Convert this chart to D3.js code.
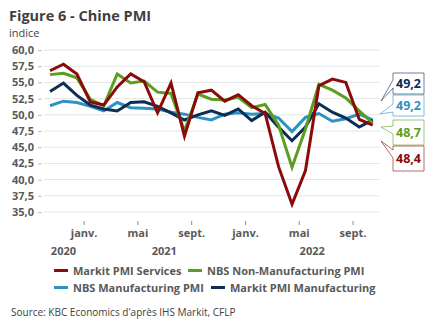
<!DOCTYPE html>
<html><head><meta charset="utf-8">
<script src="https://cdn.jsdelivr.net/npm/d3@7"></script>
<style>body{margin:0;background:#fff;} svg{display:block;font-family:"Open Sans",sans-serif;}</style>
</head><body>
<svg id="c" width="432" height="332"></svg>
<script>
const months = ["oct.20","nov.20","déc.20","janv.21","févr.21","mars21","avr.21","mai21","juin21","juil.21","août21","sept.21","oct.21","nov.21","déc.21","janv.22","févr.22","mars22","avr.22","mai22","juin22","juil.22","août22","sept.22","oct.22"];
const markitServices = [56.8,57.8,56.3,52.0,51.5,54.3,56.3,55.1,50.3,54.9,46.7,53.4,53.8,52.1,53.1,51.4,50.2,42.0,36.2,41.4,54.5,55.5,55.0,49.3,48.4];
const nbsNonManuf   = [56.2,56.4,55.7,52.4,51.4,56.3,54.9,55.2,53.5,53.3,47.5,53.2,52.4,52.3,52.7,51.1,51.6,48.4,41.9,47.8,54.7,53.8,52.6,50.6,48.7];
const nbsManuf      = [51.4,52.1,51.9,51.3,50.6,51.9,51.1,51.0,50.9,50.4,50.1,49.6,49.2,50.1,50.3,50.1,50.2,49.5,47.4,49.6,50.2,49.0,49.4,50.1,49.2];
const markitManuf   = [53.6,54.9,53.0,51.5,50.9,50.6,51.9,52.0,51.3,50.3,49.2,50.0,50.6,49.9,50.9,49.1,50.4,48.1,46.0,48.1,51.7,50.4,49.5,48.1,49.2];
const yTicks = [35,37.5,40,42.5,45,47.5,50,52.5,55,57.5,60];
const monthTicks = [{pos:2.5,label:"janv."},{pos:6.5,label:"mai"},{pos:10.5,label:"sept."},{pos:14.5,label:"janv."},{pos:18.5,label:"mai"},{pos:22.5,label:"sept."}];
const yearLabels = [{pos:1,label:"2020"},{pos:8.5,label:"2021"},{pos:19.5,label:"2022"}];
const seriesNames = ["Markit PMI Services","NBS Non-Manufacturing PMI","NBS Manufacturing PMI","Markit PMI Manufacturing"];
const colors = ["#8B0A0A","#5B9E1F","#2B93C3","#0E2D55"];

const series = [markitServices, nbsNonManuf, nbsManuf, markitManuf];
const svg = d3.select("#c");
const x = d3.scaleLinear().domain([0, months.length-1]).range([50, 372.7]);
const y = d3.scaleLinear().domain([35,60]).range([212, 50]);

svg.append("text").attr("x",9).attr("y",21).attr("font-size",14.5).attr("font-weight","bold").attr("fill","#3f3f3f").text("Figure 6 - Chine PMI");
svg.append("text").attr("x",9).attr("y",37).attr("font-size",11).attr("fill","#3f3f3f").text("indice");

// grid
svg.append("g").selectAll("line").data(yTicks).join("line")
  .attr("x1",44).attr("x2",380).attr("y1",d=>y(d)).attr("y2",d=>y(d))
  .attr("stroke","#e4e4e4").attr("stroke-width",1);
// y axis
const yAxis = d3.axisLeft(y).tickValues(yTicks).tickSize(4).tickPadding(4).tickFormat(d=>d3.format(".1f")(d).replace(".",","));
const gy = svg.append("g").attr("transform","translate(42,0)").call(yAxis);
gy.select(".domain").remove();
gy.selectAll("line").attr("stroke","#bfbfbf");
gy.selectAll("text").attr("font-size",11).attr("font-weight","bold").attr("fill","#595959").attr("font-family","Open Sans");

// x axis ticks
const xAxis = d3.axisBottom(x).tickValues(monthTicks.map(d=>d.pos)).tickSize(4).tickPadding(4)
  .tickFormat((d,i)=>monthTicks[i].label);
const gx = svg.append("g").attr("transform","translate(0,221)").call(xAxis);
gx.select(".domain").remove();
gx.selectAll("line").attr("stroke","#8c8c8c");
gx.selectAll("text").attr("font-size",11).attr("font-weight","bold").attr("fill","#595959").attr("font-family","Open Sans");
svg.append("g").selectAll("text").data(yearLabels).join("text")
  .attr("x",d=>x(d.pos)).attr("y",255).attr("text-anchor","middle")
  .attr("font-size",11).attr("font-weight","bold").attr("fill","#595959").text(d=>d.label);

// lines (draw order: light blue, navy, green, red)
const line = d3.line().x((d,i)=>x(i)).y(d=>y(d));
[2,3,1,0].forEach(k=>{
  svg.append("path").attr("d",line(series[k])).attr("fill","none")
    .attr("stroke",colors[k]).attr("stroke-width",3).attr("stroke-linejoin","miter");
});

// callouts
const bx0 = 393, bx1 = 424;
const callouts = [
  {k:3, top:73, bot:94, tip:[381,101], a:80, b:88},
  {k:2, top:95, bot:116, tip:[380,114], a:104, b:112},
  {k:1, top:120, bot:145, tip:[381,127], a:126, b:134},
  {k:0, top:146, bot:171, tip:[381,141], a:150, b:158}
];
callouts.forEach(c=>{
  const last = series[c.k][series[c.k].length-1];
  const p = d3.path();
  p.moveTo(bx0,c.top); p.lineTo(bx1,c.top); p.lineTo(bx1,c.bot); p.lineTo(bx0,c.bot);
  p.lineTo(bx0,c.b); p.lineTo(c.tip[0],c.tip[1]); p.lineTo(bx0,c.a); p.closePath();
  svg.append("path").attr("d",p.toString()).attr("fill","#fff").attr("stroke",colors[c.k]).attr("stroke-width",1).attr("stroke-opacity",0.6);
  svg.append("text").attr("x",(bx0+bx1)/2).attr("y",(c.top+c.bot)/2+4.5).attr("text-anchor","middle")
    .attr("font-size",12.5).attr("font-weight","bold").attr("fill",colors[c.k])
    .text(d3.format(".1f")(last).replace(".",","));
});

// legend
const legend = [
  {k:0, x:54, y:270.5},{k:1, x:188, y:270.5},
  {k:2, x:54, y:287.5},{k:3, x:211, y:287.5}
];
legend.forEach(l=>{
  svg.append("line").attr("x1",l.x).attr("x2",l.x+14).attr("y1",l.y).attr("y2",l.y).attr("stroke",colors[l.k]).attr("stroke-width",3);
  svg.append("text").attr("x",l.x+19).attr("y",l.y+4).attr("font-size",11).attr("font-weight","bold").attr("fill","#595959").text(seriesNames[l.k]);
});

svg.append("text").attr("x",11).attr("y",316).attr("font-size",10).attr("fill","#404040").text("Source: KBC Economics d'après IHS Markit, CFLP");
</script>
</body></html>
